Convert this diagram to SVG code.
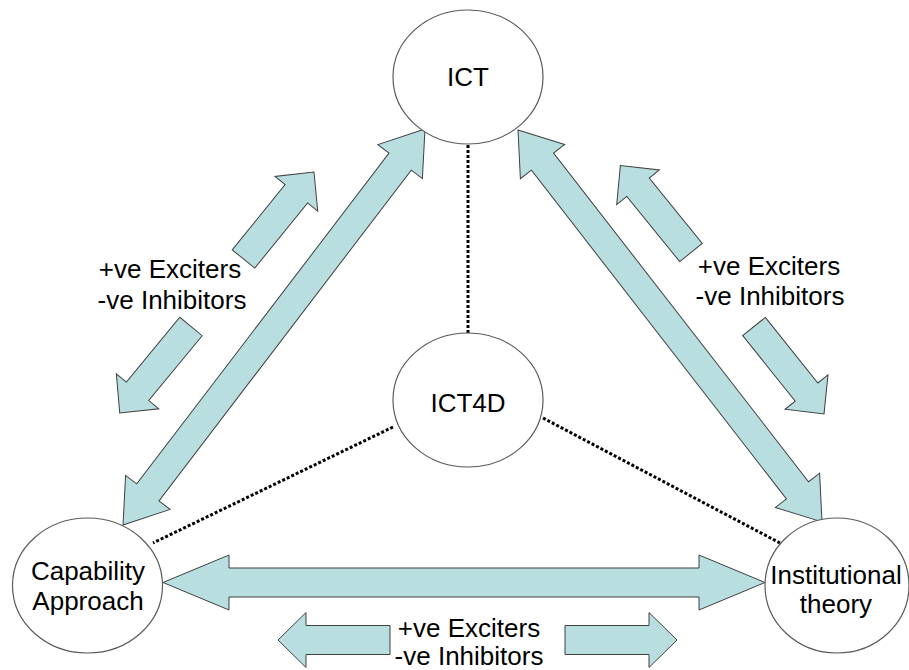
<svg xmlns="http://www.w3.org/2000/svg" width="909" height="670" viewBox="0 0 909 670">
  <style>
    .node ellipse { fill: #ffffff; stroke: #5a5a5a; stroke-width: 1.2; }
    .lbl { font-family: "Liberation Sans", Arial, sans-serif; font-size: 26px; fill: #000000; text-anchor: middle; }
    .arrow { fill: #B8DEE0; stroke: #404040; stroke-width: 1; stroke-linejoin: miter; }
    .dot { stroke: #000000; stroke-width: 3; stroke-dasharray: 3 2; fill: none; }
  </style>
  <defs>
    <polygon id="small" points="0,-14.5 84,-14.5 84,-27.5 112,0 84,27.5 84,14.5 0,14.5"/>
  </defs>
  <rect width="909" height="670" fill="#ffffff"/>

  <g id="connectors">
    <line class="dot" x1="468" y1="145" x2="468" y2="333"/>
    <line class="dot" x1="393" y1="427" x2="153" y2="543"/>
    <line class="dot" x1="543" y1="418" x2="780" y2="543"/>
    <!-- Capability <-> ICT -->
    <polygon class="arrow" transform="translate(123,525) rotate(-52.67)" points="0,0 41,-28 41,-14 457,-14 457,-28 498,0 457,28 457,14 41,14 41,28"/>
    <!-- ICT <-> Institutional -->
    <polygon class="arrow" transform="translate(518,130) rotate(52.2)" points="0,0 40,-28 40,-14 456,-14 456,-28 496,0 456,28 456,14 40,14 40,28"/>
    <!-- Capability <-> Institutional -->
    <polygon class="arrow" transform="translate(163,582.5)" points="0,0 66,-27.5 66,-14.5 536,-14.5 536,-27.5 602,0 536,27.5 536,14.5 66,14.5 66,27.5"/>
  </g>

  <g id="annotations">
    <use href="#small" class="arrow" transform="translate(243.5,259) rotate(-51)"/>
    <use href="#small" class="arrow" transform="translate(191,326.5) rotate(129.5)"/>
    <use href="#small" class="arrow" transform="translate(691,252.5) rotate(-129.1)"/>
    <use href="#small" class="arrow" transform="translate(754,326.5) rotate(51.3)"/>
    <use href="#small" class="arrow" transform="translate(390,640) rotate(180)"/>
    <use href="#small" class="arrow" transform="translate(565,640)"/>
    <text class="lbl" x="170" y="278">+ve Exciters</text>
    <text class="lbl" x="172" y="309">-ve Inhibitors</text>
    <text class="lbl" x="769" y="275">+ve Exciters</text>
    <text class="lbl" x="770" y="305">-ve Inhibitors</text>
    <text class="lbl" x="469" y="637">+ve Exciters</text>
    <text class="lbl" x="469" y="665">-ve Inhibitors</text>
  </g>

  <g id="node-ict" class="node">
    <ellipse cx="468" cy="77" rx="75" ry="67"/>
    <text class="lbl" x="468" y="86">ICT</text>
  </g>
  <g id="node-ict4d" class="node">
    <ellipse cx="468" cy="400" rx="75" ry="67"/>
    <text class="lbl" x="468" y="412">ICT4D</text>
  </g>
  <g id="node-capability" class="node">
    <ellipse cx="87.5" cy="585.5" rx="75" ry="67.5"/>
    <text class="lbl" x="88" y="580">Capability</text>
    <text class="lbl" x="88" y="610">Approach</text>
  </g>
  <g id="node-institutional" class="node">
    <ellipse cx="837" cy="585.5" rx="72" ry="67.5"/>
    <text class="lbl" x="836" y="584">Institutional</text>
    <text class="lbl" x="836" y="613">theory</text>
  </g>
</svg>
